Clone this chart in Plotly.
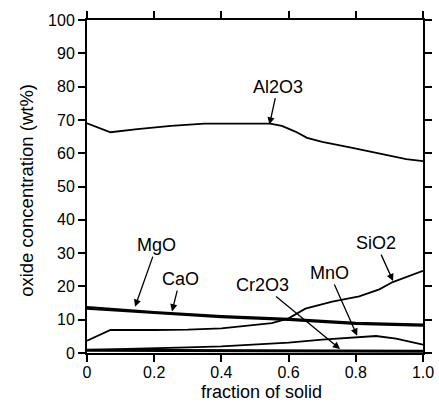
import plotly.graph_objects as go

# Oxide concentrations (wt%) versus fraction of solid
al2o3_x = [0, 0.07, 0.15, 0.25, 0.35, 0.45, 0.545, 0.58, 0.62, 0.655, 0.70, 0.79, 0.89, 0.95, 1.0]
al2o3_y = [69.0, 66.3, 67.2, 68.2, 68.9, 69.0, 68.9, 68.2, 66.5, 64.6, 63.4, 61.6, 59.5, 58.2, 57.6]

sio2_x = [0, 0.07, 0.2, 0.3, 0.4, 0.45, 0.55, 0.6, 0.65, 0.73, 0.81, 0.87, 0.91, 1.0]
sio2_y = [3.7, 6.9, 6.9, 7.0, 7.4, 7.9, 9.0, 10.4, 13.3, 15.4, 17.0, 19.1, 21.3, 24.7]

mgo_x = [0, 0.2, 0.4, 0.6, 0.8, 1.0]
mgo_y = [13.8, 12.3, 11.1, 10.3, 9.1, 8.6]

cao_x = [0, 0.2, 0.4, 0.6, 0.8, 1.0]
cao_y = [13.3, 11.9, 10.7, 9.9, 8.7, 8.2]

mno_x = [0, 0.1, 0.2, 0.3, 0.4, 0.5, 0.6, 0.7, 0.8, 0.86, 0.92, 1.0]
mno_y = [0.9, 1.1, 1.4, 1.7, 2.0, 2.5, 3.1, 4.0, 4.8, 5.1, 4.3, 2.5]

cr2o3_x = [0, 0.2, 0.4, 0.6, 0.8, 1.0]
cr2o3_y = [0.8, 0.7, 0.6, 0.6, 0.5, 0.5]

x_ticks = [0, 0.2, 0.4, 0.6, 0.8, 1.0]
x_tick_text = ["0", "0.2", "0.4", "0.6", "0.8", "1.0"]
y_ticks = list(range(0, 101, 10))

FONT = "Liberation Sans, Arial, Helvetica, sans-serif"
W, H = 439, 403
MARGIN = dict(l=87, r=16, t=20, b=50)
PLOT_W = W - MARGIN["l"] - MARGIN["r"]
PLOT_H = H - MARGIN["t"] - MARGIN["b"]

fig = go.Figure()
series = [
    ("Al2O3", al2o3_x, al2o3_y, 1.8),
    ("SiO2", sio2_x, sio2_y, 1.8),
    ("MgO", mgo_x, mgo_y, 1.9),
    ("CaO", cao_x, cao_y, 1.9),
    ("MnO", mno_x, mno_y, 1.8),
    ("Cr2O3", cr2o3_x, cr2o3_y, 3.0),
]
for name, xs, ys, w in series:
    fig.add_trace(go.Scatter(x=xs, y=ys, mode="lines", name=name,
                             line=dict(color="black", width=w)))

# Labels with arrows: (text, label x, label y, arrow tip x, arrow tip y)
labels = [
    ("Al2O3", 0.568, 80.0, 0.543, 68.6),
    ("MgO", 0.208, 32.4, 0.143, 13.9),
    ("CaO", 0.277, 22.2, 0.253, 12.5),
    ("Cr2O3", 0.521, 20.4, 0.753, 1.2),
    ("MnO", 0.721, 24.0, 0.804, 5.2),
    ("SiO2", 0.86, 33.0, 0.911, 21.6),
]
for text, lx, ly, tx, ty in labels:
    # label offset from the arrow tip, in screen pixels
    dx = (lx - tx) * PLOT_W
    dy = -(ly - ty) / 100.0 * PLOT_H
    fig.add_annotation(x=tx, y=ty, ax=dx, ay=dy, xref="x", yref="y",
                       text=text, showarrow=True,
                       arrowhead=2, arrowsize=1.1, arrowwidth=1.3,
                       arrowcolor="black",
                       font=dict(family=FONT, size=18, color="black"))

# Axis titles
fig.add_annotation(text="fraction of solid", xref="paper", yref="paper",
                   x=0.52, y=0, xanchor="center", yanchor="top",
                   yshift=-27, showarrow=False,
                   font=dict(family=FONT, size=18, color="black"))
fig.add_annotation(text="oxide concentration (wt%)", xref="paper", yref="paper",
                   x=0, y=0.487, xanchor="center", yanchor="middle",
                   xshift=-60, textangle=-90, showarrow=False,
                   font=dict(family=FONT, size=18.5, color="black"))

axis_common = dict(showline=True, linecolor="black", linewidth=2,
                   mirror="ticks", ticks="outside", ticklen=7,
                   tickwidth=1.5, tickcolor="black", showgrid=False,
                   zeroline=False, automargin=False,
                   tickfont=dict(family=FONT, size=16, color="black"))

fig.update_xaxes(range=[0, 1.0], tickvals=x_ticks, ticktext=x_tick_text,
                 **axis_common)
fig.update_yaxes(range=[0, 100], tickvals=y_ticks, **axis_common)
try:
    fig.update_xaxes(ticklabelstandoff=-3)
except ValueError:
    pass

fig.update_layout(width=W, height=H, showlegend=False,
                  paper_bgcolor="white", plot_bgcolor="white",
                  margin=MARGIN)

fig.write_html("out.html")
